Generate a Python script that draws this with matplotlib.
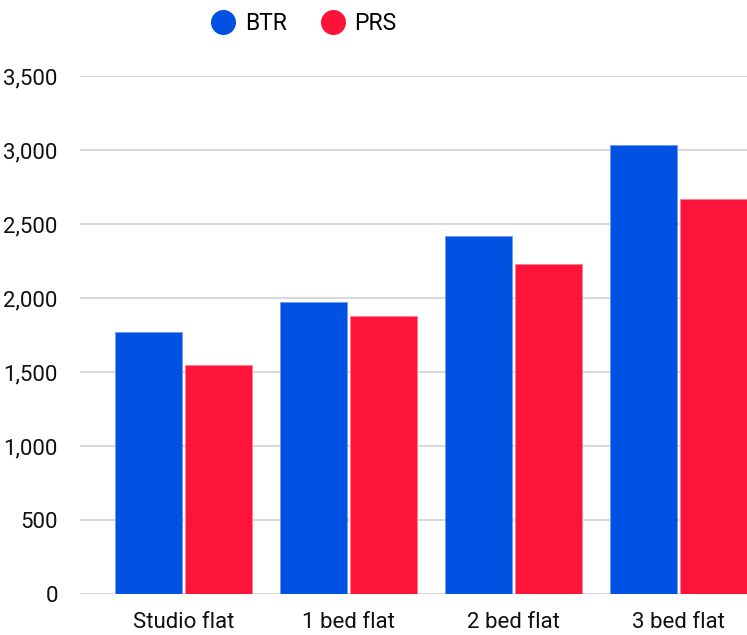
import matplotlib.pyplot as plt
from matplotlib.lines import Line2D
import numpy as np

plt.rcParams['font.family'] = ['Roboto', 'DejaVu Sans']

categories = ['Studio flat', '1 bed flat', '2 bed flat', '3 bed flat']
btr = [1768, 1973, 2419, 3036]
prs = [1545, 1880, 2228, 2667]

blue = '#0152E3'
red = '#FF1439'

fig = plt.figure(figsize=(7.47, 6.35), dpi=100)
ax = fig.add_axes([80 / 747, 41 / 635, 1 - 80 / 747, (594 - 76) / 635])

x = np.arange(len(categories))
w = 0.406
off = 0.214
ax.bar(x - off, btr, width=w, color=blue, edgecolor='#6f9bf0', linewidth=0.6, zorder=3)
ax.bar(x + off, prs, width=w, color=red, edgecolor='#ff7d92', linewidth=0.6, zorder=3)

ax.set_xlim(-0.627, 3.415)
ax.set_ylim(0, 3500)
ax.set_yticks(range(0, 3501, 500))
ax.set_yticklabels([f'{v:,}' for v in range(0, 3501, 500)])
ax.set_xticks(x)
ax.set_xticklabels(categories)
ax.tick_params(axis='both', length=0, labelsize=16, colors='#111111')
ax.tick_params(axis='y', pad=16)
ax.tick_params(axis='x', pad=13)
ax.grid(axis='y', color='#d6d6d6', linewidth=1.3, zorder=0)
for s in ax.spines.values():
    s.set_visible(False)

# legend
handles = [Line2D([], [], marker='o', linestyle='', markersize=17, color=blue),
           Line2D([], [], marker='o', linestyle='', markersize=17, color=red)]
fig.legend(handles, ['BTR', 'PRS'], loc='center', bbox_to_anchor=(304 / 747, 1 - 24 / 635),
           ncol=2, frameon=False, fontsize=16.5, handletextpad=0.45, columnspacing=1.5,
           handlelength=1.0)

plt.savefig('out.png', dpi=100)
